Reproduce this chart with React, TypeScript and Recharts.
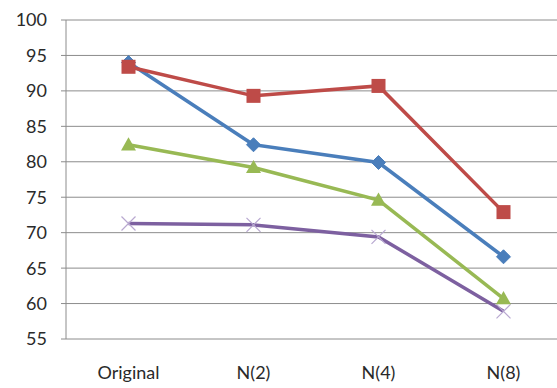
import React from 'react';
import { LineChart, Line, XAxis, YAxis, CartesianGrid } from 'recharts';

const categories = ['Original', 'N(2)', 'N(4)', 'N(8)'];
const seriesBlue = [94.0, 82.4, 79.9, 66.6];
const seriesRed = [93.4, 89.3, 90.7, 72.9];
const seriesGreen = [82.4, 79.2, 74.6, 60.7];
const seriesPurple = [71.3, 71.1, 69.4, 58.9];
const yTicks = [55, 60, 65, 70, 75, 80, 85, 90, 95, 100];
const boundaryTicks = [0, 1, 2, 3, 4];
const centerTicks = categories.map((_, i) => i + 0.5);

const data = categories.map((c, i) => ({
  name: c,
  pos: i + 0.5,
  blue: seriesBlue[i],
  red: seriesRed[i],
  green: seriesGreen[i],
  purple: seriesPurple[i],
}));

const BLUE = '#4A7EBB';
const RED = '#BE4B48';
const GREEN = '#98B954';
const PURPLE = '#7D60A0';

const Diamond = (p: any) => {
  const { cx, cy } = p;
  if (cx == null || cy == null) return <g key={p.key} />;
  const r = 7;
  return (
    <path key={p.key} d={`M${cx},${cy - r}L${cx + r},${cy}L${cx},${cy + r}L${cx - r},${cy}Z`} fill={BLUE} stroke={BLUE} strokeWidth={1} />
  );
};
const Square = (p: any) => {
  const { cx, cy } = p;
  if (cx == null || cy == null) return <g key={p.key} />;
  const r = 7;
  return <rect key={p.key} x={cx - r} y={cy - r} width={2 * r} height={2 * r} fill={RED} />;
};
const Triangle = (p: any) => {
  const { cx, cy } = p;
  if (cx == null || cy == null) return <g key={p.key} />;
  const r = 7.5;
  return (
    <path key={p.key} d={`M${cx},${cy - r}L${cx + r},${cy + r * 0.75}L${cx - r},${cy + r * 0.75}Z`} fill={GREEN} />
  );
};
const Cross = (p: any) => {
  const { cx, cy } = p;
  if (cx == null || cy == null) return <g key={p.key} />;
  const r = 7;
  return (
    <path key={p.key} d={`M${cx - r},${cy - r}L${cx + r},${cy + r}M${cx - r},${cy + r}L${cx + r},${cy - r}`} stroke="#B8A8D0" strokeWidth={1.2} fill="none" />
  );
};

const font = 'Lato, "Open Sans", sans-serif';

export default function App() {
  return (
    <div style={{ position: 'absolute', left: 0, top: 0, width: 557, height: 388, overflow: 'hidden', background: '#fff' }}>
      <LineChart width={600} height={388} data={data} margin={{ top: 20, right: 34, bottom: 0, left: 0 }}>
        <CartesianGrid vertical={false} stroke="#8c8c8c" strokeWidth={1} xAxisId="a" />
        <XAxis
          xAxisId="b"
          dataKey="pos"
          type="number"
          domain={[0, 4]}
          ticks={boundaryTicks}
          height={0}
          tickSize={6}
          tickFormatter={() => ''}
          axisLine={{ stroke: '#8c8c8c' }}
          tickLine={{ stroke: '#8c8c8c' }}
        />
        <XAxis
          xAxisId="a"
          dataKey="pos"
          type="number"
          domain={[0, 4]}
          ticks={centerTicks}
          height={49}
          axisLine={false}
          tickLine={false}
          tickMargin={21}
          interval={0}
          tickFormatter={(v: number) => categories[Math.floor(v)] ?? ''}
          tick={{ fill: '#2a2a2a', fontSize: 18, fontFamily: font }}
        />
        <YAxis
          domain={[55, 100]}
          ticks={yTicks}
          width={66}
          tickSize={5}
          tickMargin={14}
          interval={0}
          stroke="#8c8c8c"
          tick={{ fill: '#2a2a2a', fontSize: 18, fontFamily: font }}
        />
        <Line xAxisId="a" dataKey="purple" stroke={PURPLE} strokeWidth={3.5} dot={Cross} activeDot={false} isAnimationActive={false} />
        <Line xAxisId="a" dataKey="green" stroke={GREEN} strokeWidth={3.5} dot={Triangle} activeDot={false} isAnimationActive={false} />
        <Line xAxisId="a" dataKey="blue" stroke={BLUE} strokeWidth={3.5} dot={Diamond} activeDot={false} isAnimationActive={false} />
        <Line xAxisId="a" dataKey="red" stroke={RED} strokeWidth={3.5} dot={Square} activeDot={false} isAnimationActive={false} />
      </LineChart>
    </div>
  );
}
